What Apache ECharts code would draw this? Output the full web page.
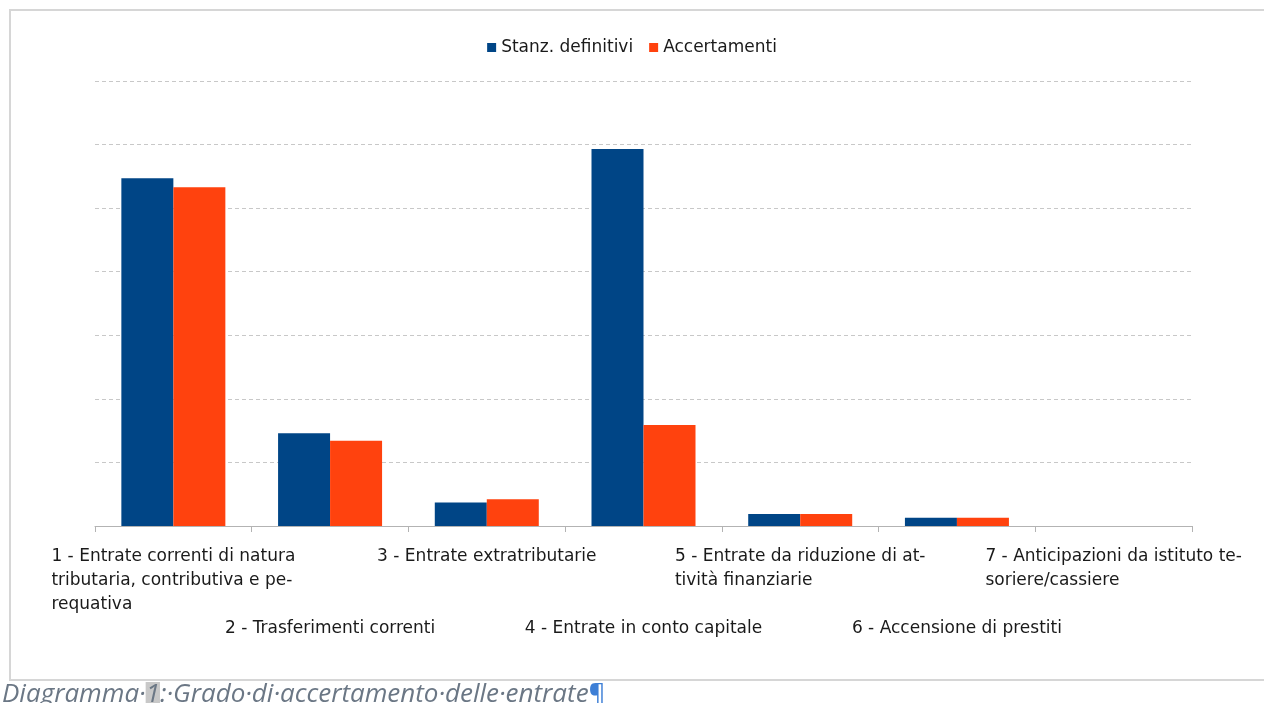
<!DOCTYPE html>
<html>
<head>
<meta charset="utf-8">
<title>Grado di accertamento delle entrate</title>
<script src="https://cdn.jsdelivr.net/npm/echarts@6/dist/echarts.min.js"></script>
<style>
  html, body { margin: 0; padding: 0; background: #ffffff; }
  #chart { width: 1264px; height: 703px; }
</style>
</head>
<body>
<div id="chart"></div>
<script>
// Revenue titles (labels are pre-hyphenated the way the report wraps them)
const categories = [
  ['1 - Entrate correnti di natura', 'tributaria, contributiva e pe-', 'requativa'],
  ['2 - Trasferimenti correnti'],
  ['3 - Entrate extratributarie'],
  ['4 - Entrate in conto capitale'],
  ['5 - Entrate da riduzione di at-', 'tività finanziarie'],
  ['6 - Accensione di prestiti'],
  ['7 - Anticipazioni da istituto te-', 'soriere/cassiere']
];
const seriesNames = ['Stanz. definitivi', 'Accertamenti'];
// Amounts on the chart's own value scale (0–7)
const stanziamenti = [5.47, 1.46, 0.37, 5.93, 0.19, 0.13, 0];
const accertamenti = [5.33, 1.34, 0.42, 1.59, 0.19, 0.13, 0];

const labelFont = 'DejaVu Sans';
const labelSize = 17;

const chart = echarts.init(document.getElementById('chart'), null, { renderer: 'canvas' });

chart.setOption({
  animation: false,
  backgroundColor: '#ffffff',
  color: ['#004586', '#ff420e'],
  legend: {
    top: 34,
    left: 'center',
    itemWidth: 9,
    itemHeight: 9,
    itemGap: 16,
    icon: 'rect',
    textStyle: { fontFamily: labelFont, fontSize: labelSize, color: '#1a1a1a' },
    data: seriesNames
  },
  grid: { left: 95, right: 72, top: 81, bottom: 177, containLabel: false },
  xAxis: {
    type: 'category',
    data: categories.map(c => c.join('\n')),
    axisLine: { lineStyle: { color: '#b3b3b3', width: 1 } },
    axisTick: { show: true, alignWithLabel: false, length: 6, lineStyle: { color: '#b3b3b3' } },
    axisLabel: {
      interval: 0,
      margin: 19,
      color: '#1a1a1a',
      fontFamily: labelFont,
      fontSize: labelSize,
      lineHeight: 24,
      verticalAlign: 'top',
      align: 'center',
      formatter: function (value, idx) {
        const lines = value.split('\n').map(l => '{t|' + l + '}');
        // even-numbered titles sit on a lower row so the long labels don't collide
        return (idx % 2 === 1 ? '\n\n\n' : '') + lines.join('\n');
      },
      rich: {
        t: { align: 'left', fontFamily: labelFont, fontSize: labelSize, lineHeight: 24, color: '#1a1a1a' }
      }
    }
  },
  yAxis: {
    type: 'value',
    min: 0,
    max: 7,
    interval: 1,
    axisLine: { show: false },
    axisTick: { show: false },
    axisLabel: { show: false },
    splitLine: { lineStyle: { color: '#c8c8c8', type: [4, 3], width: 1 } }
  },
  series: [
    {
      name: seriesNames[0],
      type: 'bar',
      data: stanziamenti,
      barWidth: 52,
      barGap: '0%'
    },
    {
      name: seriesNames[1],
      type: 'bar',
      data: accertamenti,
      barWidth: 52,
      barGap: '0%'
    }
  ],
  graphic: [
    {
      type: 'rect',
      shape: { x: 10, y: 10, width: 1270, height: 670 },
      style: { fill: 'none', stroke: '#d6d6d6', lineWidth: 2 },
      silent: true
    },
    {
      type: 'text',
      left: 2,
      top: 682,
      style: {
        text: '{c|Diagramma·}{h|1}{c|:·Grado·di·accertamento·delle·entrate}{p|¶}',
        rich: {
          c: { fontFamily: 'Open Sans', fontStyle: 'italic', fontSize: 26, fill: '#6b7785' },
          h: { fontFamily: 'Open Sans', fontStyle: 'italic', fontSize: 26, fill: '#6b7785', backgroundColor: '#c8c8c8' },
          p: { fontFamily: 'Open Sans', fontSize: 26, fill: '#3d7fd6' }
        }
      },
      silent: true
    }
  ]
});
</script>
</body>
</html>
